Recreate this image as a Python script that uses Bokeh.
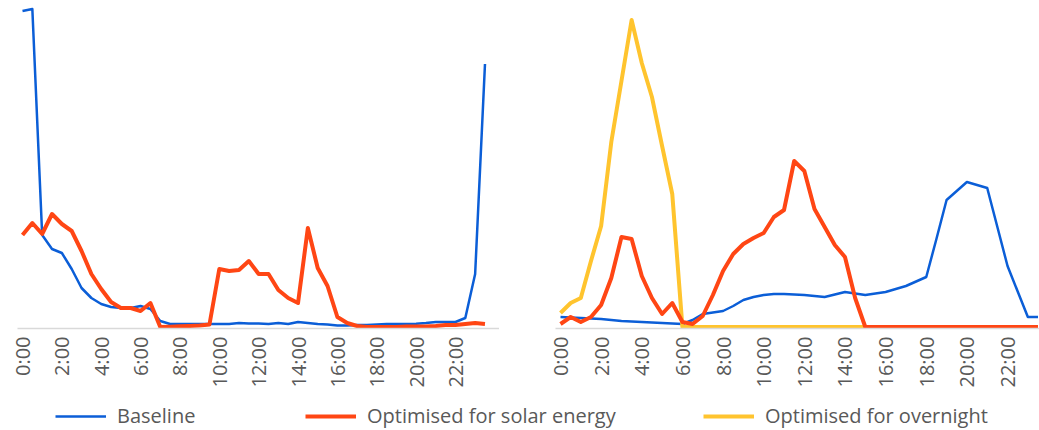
import math
from bokeh.plotting import figure
from bokeh.models import Range1d, FixedTicker, Legend, LegendItem
from bokeh.layouts import column, row
from bokeh.embed import file_html
from bokeh.resources import INLINE

# ---- data (half-hourly slots, 0:00 .. 23:30) ----
slot_labels = [f"{h}:{m:02d}" for h in range(24) for m in (0, 30)]
slots = list(range(len(slot_labels)))
tick_labels = ["0:00", "2:00", "4:00", "6:00", "8:00", "10:00",
               "12:00", "14:00", "16:00", "18:00", "20:00", "22:00"]

# left panel
left_baseline = [3.16, 3.18, 0.92, 0.78, 0.74, 0.58, 0.39, 0.29, 0.23, 0.20, 0.19, 0.19,
                 0.21, 0.18, 0.06, 0.03, 0.03, 0.03, 0.03, 0.03, 0.03, 0.03, 0.04, 0.035,
                 0.035, 0.03, 0.04, 0.03, 0.05, 0.04, 0.03, 0.025, 0.015, 0.015, 0.02, 0.02,
                 0.025, 0.03, 0.03, 0.03, 0.033, 0.04, 0.05, 0.05, 0.05, 0.09, 0.53, 2.63]
left_solar = [0.92, 1.04, 0.93, 1.13, 1.03, 0.96, 0.76, 0.53, 0.38, 0.25, 0.19, 0.19,
              0.16, 0.24, 0.0, 0.003, 0.007, 0.01, 0.015, 0.025, 0.58, 0.56, 0.57, 0.66,
              0.53, 0.53, 0.37, 0.29, 0.24, 0.99, 0.59, 0.41, 0.10, 0.04, 0.01, 0.0,
              0.0, 0.0, 0.0, 0.005, 0.005, 0.005, 0.01, 0.02, 0.02, 0.03, 0.04, 0.03]

# right panel
right_baseline = [0.10, 0.095, 0.09, 0.085, 0.08, 0.07, 0.06, 0.055, 0.05, 0.045, 0.04, 0.035,
                  0.03, 0.07, 0.13, 0.145, 0.16, 0.21, 0.27, 0.30, 0.32, 0.33, 0.33, 0.325,
                  0.32, 0.31, 0.30, 0.325, 0.35, 0.335, 0.32, 0.335, 0.35, 0.38, 0.41, 0.455,
                  0.50, 0.88, 1.27, 1.36, 1.45, 1.42, 1.39, 1.00, 0.61, 0.355, 0.10, 0.10]
right_solar = [0.03, 0.10, 0.05, 0.10, 0.22, 0.49, 0.90, 0.88, 0.51, 0.29, 0.13, 0.24,
               0.05, 0.03, 0.11, 0.32, 0.56, 0.73, 0.83, 0.89, 0.94, 1.10, 1.17, 1.66,
               1.56, 1.18, 1.00, 0.82, 0.70, 0.29, 0.0, 0.0, 0.0, 0.0, 0.0, 0.0,
               0.0, 0.0, 0.0, 0.0, 0.0, 0.0, 0.0, 0.0, 0.0, 0.0, 0.0, 0.0]
right_overnight = [0.14, 0.24, 0.29, 0.66, 1.01, 1.85, 2.46, 3.07, 2.64, 2.30, 1.81, 1.33,
                   0.0, 0.0, 0.0, 0.0, 0.0, 0.0, 0.0, 0.0, 0.0, 0.0, 0.0, 0.0,
                   0.0, 0.0, 0.0, 0.0, 0.0, 0.0, 0.0, 0.0, 0.0, 0.0, 0.0, 0.0,
                   0.0, 0.0, 0.0, 0.0, 0.0, 0.0, 0.0, 0.0, 0.0, 0.0, 0.0, 0.0]

BLUE = "#0B5ED7"
ORANGE = "#FF4614"
YELLOW = "#FFC42E"
TEXT = "#595959"
FONT = "Open Sans"

tick_pos = [slot_labels.index(t) for t in tick_labels]
overrides = {p: t for p, t in zip(tick_pos, tick_labels)}


def make_panel(width, left_border, x_start, x_end):
    p = figure(width=width, height=400, x_range=Range1d(x_start, x_end),
               y_range=Range1d(-0.015, 3.215), output_backend="svg", toolbar_location=None,
               y_axis_location=None, min_border_left=left_border, min_border_right=0,
               min_border_top=5, min_border_bottom=72)
    p.grid.visible = False
    p.outline_line_color = None
    ax = p.xaxis[0]
    ax.ticker = FixedTicker(ticks=tick_pos)
    ax.major_label_overrides = overrides
    ax.major_label_orientation = math.pi / 2
    ax.axis_line_color = "#D9D9D9"
    ax.axis_line_width = 1.5
    ax.major_tick_line_color = None
    ax.minor_tick_line_color = None
    ax.major_tick_out = 0
    ax.major_label_standoff = 8
    ax.major_label_text_font = FONT
    ax.major_label_text_font_size = "20px"
    ax.major_label_text_color = TEXT
    return p


p1 = make_panel(499, 17, -0.508, 48.475)
p1.line(slots, left_baseline, color=BLUE, line_width=2.5, line_join="round")
p1.line(slots, left_solar, color=ORANGE, line_width=4, line_join="round")

p2 = make_panel(540, 56, -0.492, 47.146)
p2.line(slots, right_baseline, color=BLUE, line_width=2.5, line_join="round")
p2.line(slots, right_overnight, color=YELLOW, line_width=4, line_join="round")
p2.line(slots, right_solar, color=ORANGE, line_width=4, line_join="round")

# legend strip
p3 = figure(width=1039, height=30, x_range=Range1d(0, 1), y_range=Range1d(0, 1),
            output_backend="svg", toolbar_location=None, min_border=0,
            x_axis_location=None, y_axis_location=None)
p3.grid.visible = False
p3.outline_line_color = None

nan = float("nan")
legend_specs = [("Baseline", BLUE, 2.5, 55),
                ("Optimised for solar energy", ORANGE, 4, 305),
                ("Optimised for overnight", YELLOW, 4, 703)]
for label, color, lw, xloc in legend_specs:
    r = p3.line(x=[nan, nan], y=[nan, nan], color=color, line_width=lw)
    lg = Legend(items=[LegendItem(label=label, renderers=[r])], location=(xloc, 1),
                orientation="horizontal", glyph_width=51, glyph_height=20,
                label_standoff=11, padding=0, margin=0, border_line_color=None,
                background_fill_alpha=0, label_text_font=FONT,
                label_text_font_size="20px", label_text_color=TEXT)
    p3.add_layout(lg)

layout = column(row(p1, p2), p3)
open("out.html", "w").write(file_html(layout, INLINE))
